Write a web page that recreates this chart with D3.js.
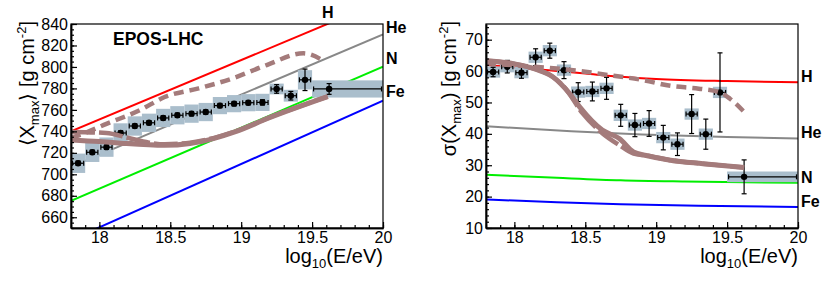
<!DOCTYPE html>
<html>
<head>
<meta charset="utf-8">
<script src="https://cdn.jsdelivr.net/npm/d3@7"></script>
<style>
body{margin:0;background:#fff}
svg{display:block;font-family:"Liberation Sans",Arial,Helvetica,sans-serif}
</style>
</head>
<body>
<svg id="chart" width="830" height="283"></svg>
<script>
'use strict';

// energy bins, log10(E/eV)
var energy=[17.85,17.95,18.05,18.15,18.25,18.35,18.45,18.55,18.65,18.75,18.85,18.95,19.05,19.15,19.25,19.35,19.45,19.62]
  , binLo=[17.8,17.9,18.0,18.1,18.2,18.3,18.4,18.5,18.6,18.7,18.8,18.9,19.0,19.1,19.2,19.3,19.4,19.5]
  , binHi=[17.9,18.0,18.1,18.2,18.3,18.4,18.5,18.6,18.7,18.8,18.9,19.0,19.1,19.2,19.3,19.4,19.5,20.0]

// <Xmax>
var xmaxMean=[710.3,720.5,725.3,738.5,745,748,752.5,755,756.5,758,764,765.8,766.7,767,779.5,773.2,788,779.5]
  , xmaxStat=[2,2,2,2,2,2,2,2,2,2,2,2,2,2.5,4,4,10,5]
  , xmaxSys=[9,9,9,9,9,8.5,8.5,8.5,8.5,8.5,8,8,8,8,5,5.5,9,8]

// sigma(Xmax)
var sigmaVal=[59.7,61.4,59.5,64.4,66.5,60.3,53.3,53.5,54.5,45.9,42.8,43.3,38.8,36.7,46.3,39.9,53.2,26.3]
  , sigmaStat=[1.5,2,1.8,2.7,2.4,2.7,3,3,3.5,3.5,3.7,4.1,3.9,3.6,6.2,4.8,12.6,5.4]
  , sigmaSys=[1.8,1.8,1.8,1.8,1.8,1.8,1.8,1.8,1.8,1.8,1.8,1.8,1.8,1.8,1.8,1.8,1.8,1.7]

// EPOS-LHC pure composition predictions
var xmaxH=[[17.8,740],[20,861.7]]
  , xmaxHe=[[17.8,707],[20,830.4]]
  , xmaxN=[[17.8,675.2],[20,800.2]]
  , xmaxFe=[[17.8,638.8],[20,768.6]]

var sigmaH=[[17.8,61.9],[18.2,60.4],[18.5,59.2],[18.75,58.2],[19,57.5],[19.5,56.8],[20,56.4]]
  , sigmaHe=[[17.8,42.4],[18.4,40.8],[18.9,39.8],[19.5,39.0],[20,38.5]]
  , sigmaN=[[17.8,27.0],[18.3,26.0],[18.75,25.2],[19.2,24.8],[20,24.4]]
  , sigmaFe=[[17.8,19.1],[18.3,18.2],[18.75,17.6],[19.3,17.1],[20,16.7]]

// fitted mixtures
var xmaxFitDash=[[17.8,734],[17.86,736.6],[18.05,747],[18.29,760],[18.46,772],[18.7,780],[18.94,789.4],[19.18,801.8],[19.44,812.7],[19.59,805]]
  , xmaxFitSolid=[[17.8,732],[18.0,730.5],[18.15,729],[18.46,727],[18.64,728.7],[18.81,733.5],[18.96,739.7],[19.19,752.2],[19.61,772.3]]
  , xmaxFitLong=[[17.8,739.5],[18.05,738.5],[18.2,734],[18.35,729.5],[18.46,728],[18.64,729.5],[18.81,734],[18.96,740],[19.19,752.5],[19.61,772.5]]

var sigmaFitDash=[[17.8,62.5],[18.1,61.5],[18.3,60.8],[18.5,59.8],[18.7,58.5],[18.9,57.2],[19.1,55.3],[19.3,54.4],[19.45,53.2],[19.52,51.2],[19.62,47]]
  , sigmaFitSolid=[[17.8,63.3],[18.0,62.3],[18.15,60.6],[18.27,58.2],[18.39,52.8],[18.46,48.6],[18.62,41.2],[18.74,38.5],[18.84,34.2],[18.93,33.1],[19.1,31.6],[19.33,30.5],[19.62,29.3]]
  , sigmaFitLong=[[17.8,63.3],[18.0,62.3],[18.15,60.6],[18.27,58.2],[18.35,55],[18.48,46.6],[18.62,40.2],[18.74,36.4],[18.84,33.7],[18.93,33.1],[19.1,31.6],[19.33,30.5],[19.62,29.3]]

var xMajor=[18,18.5,19,19.5,20]
  , xMinor=[17.8,17.9,18,18.1,18.2,18.3,18.4,18.5,18.6,18.7,18.8,18.9,19,19.1,19.2,19.3,19.4,19.5,19.6,19.7,19.8,19.9,20]
  , yMajorL=[660,680,700,720,740,760,780,800,820,840]
  , yMajorR=[10,20,30,40,50,60,70]

var brown='#a47b7b'
  , boxCol='#aabecc'

var svg=d3.select('#chart')

function panel(o){
    var x=d3.scaleLinear().domain([17.8,20]).range([o.x0,o.x1])
      , y=d3.scaleLinear().domain(o.yDomain).range([o.y1,o.y0])
      , g=svg.append('g')
      , id='clip'+o.name

    g.append('clipPath').attr('id',id)
        .append('rect')
        .attr('x',o.x0).attr('y',o.y0)
        .attr('width',o.x1-o.x0).attr('height',o.y1-o.y0)

    var line=d3.line().x(function(d){return x(d[0])}).y(function(d){return y(d[1])})
        .curve(d3.curveMonotoneX)
      , plot=g.append('g').attr('clip-path','url(#'+id+')')

    // pure composition lines
    o.models.forEach(function(m){
        plot.append('path')
            .attr('d',line(m.data))
            .attr('fill','none')
            .attr('stroke',m.color)
            .attr('stroke-width',2)
    })

    // systematic boxes
    plot.selectAll('rect.sys').data(energy).enter().append('rect')
        .attr('class','sys')
        .attr('x',function(d,i){return x(binLo[i])})
        .attr('width',function(d,i){return x(binHi[i])-x(binLo[i])})
        .attr('y',function(d,i){return y(o.val[i]+o.sys[i])})
        .attr('height',function(d,i){return y(o.val[i]-o.sys[i])-y(o.val[i]+o.sys[i])})
        .attr('fill',boxCol)

    // stat error bars
    var eb=plot.append('g').attr('stroke','#000').attr('stroke-width',1.2)
    energy.forEach(function(e,i){
        var cx=x(e), cy=y(o.val[i])
          , xl=x(binLo[i])+1.5, xr=x(binHi[i])-1.5
          , yt=y(o.val[i]+o.stat[i]), yb=y(o.val[i]-o.stat[i])
        eb.append('line').attr('x1',xl).attr('x2',xr).attr('y1',cy).attr('y2',cy)
        eb.append('line').attr('x1',xl).attr('x2',xl).attr('y1',cy-2.5).attr('y2',cy+2.5)
        eb.append('line').attr('x1',xr).attr('x2',xr).attr('y1',cy-2.5).attr('y2',cy+2.5)
        eb.append('line').attr('x1',cx).attr('x2',cx).attr('y1',yt).attr('y2',yb)
        eb.append('line').attr('x1',cx-2.5).attr('x2',cx+2.5).attr('y1',yt).attr('y2',yt)
        eb.append('line').attr('x1',cx-2.5).attr('x2',cx+2.5).attr('y1',yb).attr('y2',yb)
    })
    plot.selectAll('circle.pt').data(energy).enter().append('circle')
        .attr('class','pt')
        .attr('cx',function(d){return x(d)})
        .attr('cy',function(d,i){return y(o.val[i])})
        .attr('r',3.2)
        .attr('fill','#000')

    // fitted curves
    plot.append('path').attr('d',line(o.fitLong))
        .attr('fill','none').attr('stroke',brown).attr('stroke-width',4.5)
        .attr('stroke-dasharray','24,4')
    plot.append('path').attr('d',line(o.fitSolid))
        .attr('fill','none').attr('stroke',brown).attr('stroke-width',5)
    plot.append('path').attr('d',line(o.fitDash))
        .attr('fill','none').attr('stroke',brown).attr('stroke-width',4.5)
        .attr('stroke-dasharray','10,6')

    // frame
    g.append('rect')
        .attr('x',o.x0).attr('y',o.y0)
        .attr('width',o.x1-o.x0).attr('height',o.y1-o.y0)
        .attr('fill','none').attr('stroke','#000').attr('stroke-width',1.2)

    // axes
    var ax=g.append('g').attr('transform','translate(0,'+o.y1+')')
        .call(d3.axisBottom(x).tickValues(xMajor).tickSize(-6).tickSizeOuter(0).tickPadding(4)
            .tickFormat(d3.format('')))
    g.append('g').attr('transform','translate(0,'+o.y1+')')
        .call(d3.axisBottom(x).tickValues(xMinor).tickSize(-3).tickSizeOuter(0).tickFormat(''))
    var ay=g.append('g').attr('transform','translate('+o.x0+',0)')
        .call(d3.axisLeft(y).tickValues(o.yMajor).tickSize(-6).tickSizeOuter(0).tickPadding(3))
    g.append('g').attr('transform','translate('+o.x0+',0)')
        .call(d3.axisLeft(y).tickValues(o.yMinor).tickSize(-3).tickSizeOuter(0).tickFormat(''))

    g.selectAll('.domain').attr('stroke','#000').attr('stroke-width',1.5)
    g.selectAll('.tick line').attr('stroke','#000').attr('stroke-width',1.2)
    g.selectAll('.tick text').attr('font-size',16).attr('fill','#000')
        .attr('font-family','"Liberation Sans",Arial,sans-serif')

    // x title
    var xt=g.append('text')
        .attr('x',o.x1).attr('y',263)
        .attr('text-anchor','end')
        .attr('font-size',20)
    xt.append('tspan').text('log')
    xt.append('tspan').attr('font-size',13).attr('dy',5).text('10')
    xt.append('tspan').attr('dy',-5).text('(E/eV)')

    // composition labels
    o.labels.forEach(function(l){
        g.append('text')
            .attr('x',l.x).attr('y',l.y)
            .attr('font-size',16).attr('font-weight','bold')
            .text(l.t)
    })

    return g
}

var left=panel({
    name:'L'
  , x0:71, x1:383, y0:24, y1:228
  , yDomain:[650,840]
  , yMajor:yMajorL
  , yMinor:d3.range(650,841,5)
  , val:xmaxMean, stat:xmaxStat, sys:xmaxSys
  , models:[
        {data:xmaxH,color:'#ff0000'}
      , {data:xmaxHe,color:'#888888'}
      , {data:xmaxN,color:'#00ee00'}
      , {data:xmaxFe,color:'#0000ff'}
    ]
  , fitDash:xmaxFitDash, fitSolid:xmaxFitSolid, fitLong:xmaxFitLong
  , labels:[
        {t:'H',x:322,y:18}
      , {t:'He',x:386,y:33}
      , {t:'N',x:386,y:64}
      , {t:'Fe',x:386,y:97}
    ]
})

var right=panel({
    name:'R'
  , x0:486, x1:798, y0:24, y1:228
  , yDomain:[10,75]
  , yMajor:yMajorR
  , yMinor:d3.range(10,75,2)
  , val:sigmaVal, stat:sigmaStat, sys:sigmaSys
  , models:[
        {data:sigmaH,color:'#ff0000'}
      , {data:sigmaHe,color:'#888888'}
      , {data:sigmaN,color:'#00ee00'}
      , {data:sigmaFe,color:'#0000ff'}
    ]
  , fitDash:sigmaFitDash, fitSolid:sigmaFitSolid, fitLong:sigmaFitLong
  , labels:[
        {t:'H',x:801,y:82}
      , {t:'He',x:801,y:138}
      , {t:'N',x:801,y:183}
      , {t:'Fe',x:801,y:207}
    ]
})

left.append('text')
    .attr('x',113).attr('y',45)
    .attr('font-size',17.5).attr('font-weight','bold')
    .text('EPOS-LHC')

// y titles
var yl=left.append('text')
    .attr('transform','translate(34,21) rotate(-90)')
    .attr('text-anchor','end')
    .attr('font-size',20)
yl.append('tspan').text('\u27E8X')
yl.append('tspan').attr('font-size',13).attr('dy',5).text('max')
yl.append('tspan').attr('dy',-5).text('\u27E9 [g cm')
yl.append('tspan').attr('font-size',13).attr('dy',-8).text('-2')
yl.append('tspan').attr('dy',8).text(']')

var yr=right.append('text')
    .attr('transform','translate(456,21) rotate(-90)')
    .attr('text-anchor','end')
    .attr('font-size',20)
yr.append('tspan').text('\u03C3(X')
yr.append('tspan').attr('font-size',13).attr('dy',5).text('max')
yr.append('tspan').attr('dy',-5).text(') [g cm')
yr.append('tspan').attr('font-size',13).attr('dy',-8).text('-2')
yr.append('tspan').attr('dy',8).text(']')
</script>
</body>
</html>
